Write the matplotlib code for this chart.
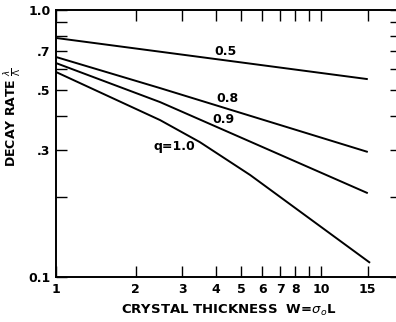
import matplotlib
matplotlib.use("Agg")
import matplotlib.pyplot as plt
from matplotlib.ticker import FixedLocator, NullFormatter, NullLocator

# decay rate vs crystal thickness
q_labels = ["0.5", "0.8", "0.9", "q=1.0"]
w_q05 = [1, 15]
rate_q05 = [0.786, 0.551]
w_q08 = [1, 2.47, 15]
rate_q08 = [0.667, 0.510, 0.294]
w_q09 = [1, 2.47, 15]
rate_q09 = [0.633, 0.452, 0.206]
w_q10 = [1, 2.47, 3.49, 5.4, 15.3]
rate_q10 = [0.586, 0.387, 0.320, 0.241, 0.113]

series_w = [w_q05, w_q08, w_q09, w_q10]
series_rate = [rate_q05, rate_q08, rate_q09, rate_q10]
label_pos = [(4.35, 0.70), (4.45, 0.465), (4.3, 0.39), (2.8, 0.307)]

x_ticks = [1, 2, 3, 4, 5, 6, 7, 8, 9, 10, 15]
x_ticklabels = ["1", "2", "3", "4", "5", "6", "7", "8", "", "10", "15"]
y_ticks = [0.1, 0.3, 0.5, 0.7, 1.0]
y_ticklabels = ["0.1", ".3", ".5", ".7", "1.0"]
y_minor = [0.2, 0.4, 0.6, 0.8, 0.9]

fig = plt.figure(figsize=(3.96, 3.22), dpi=100)
ax = fig.add_axes([0.1414, 0.1398, 0.871, 0.829])

for i in range(len(q_labels)):
    ax.plot(series_w[i], series_rate[i], color="black", lw=1.4,
            solid_capstyle="butt", solid_joinstyle="round")
    ax.text(label_pos[i][0], label_pos[i][1], q_labels[i],
            fontsize=9, ha="center", va="center", fontweight="bold")

ax.set_xscale("log")
ax.set_yscale("log")
ax.set_xlim(1, 20)
ax.set_ylim(0.1, 1.0)

ax.xaxis.set_major_locator(FixedLocator(x_ticks))
ax.set_xticklabels(x_ticklabels)
ax.xaxis.set_minor_locator(NullLocator())
ax.yaxis.set_major_locator(FixedLocator(y_ticks))
ax.set_yticklabels(y_ticklabels)
ax.yaxis.set_minor_locator(FixedLocator(y_minor))
ax.yaxis.set_minor_formatter(NullFormatter())

ax.tick_params(axis="both", which="both", direction="in", top=True, right=True,
               length=8, width=1, labelsize=9, pad=4)
for lbl in ax.get_xticklabels() + ax.get_yticklabels():
    lbl.set_fontweight("bold")
for s in ax.spines.values():
    s.set_linewidth(1.4)

ax.set_xlabel(r"CRYSTAL THICKNESS  W=$\sigma_o$L", fontsize=9.5,
              fontweight="bold", labelpad=5)
ax.set_ylabel(r"DECAY RATE $\frac{\lambda}{\Lambda}$", fontsize=9,
              fontweight="bold")
ax.yaxis.set_label_coords(-0.095, 0.6)

fig.savefig("out.png", dpi=100)
